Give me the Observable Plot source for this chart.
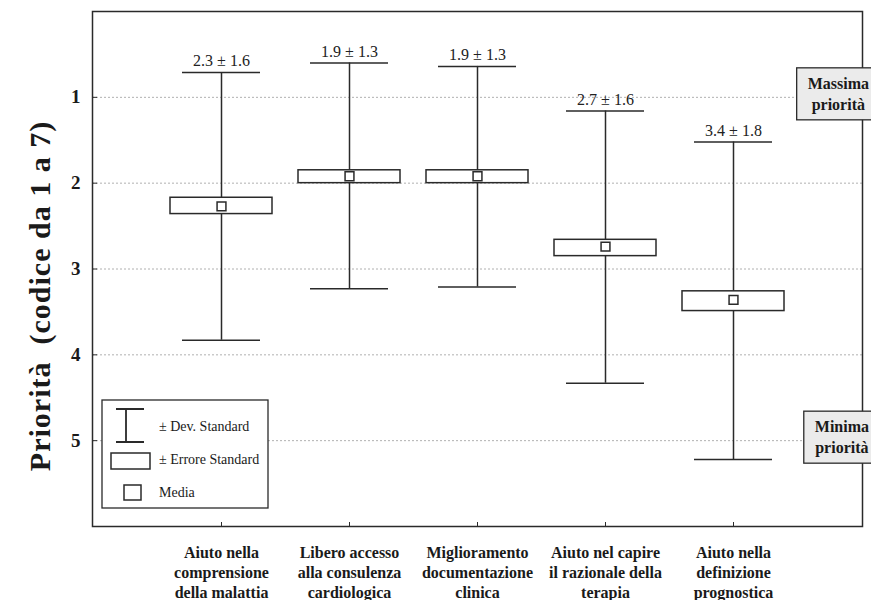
<!DOCTYPE html>
<html><head><meta charset="utf-8">
<script src="https://cdn.jsdelivr.net/npm/d3@7"></script>
<script src="https://cdn.jsdelivr.net/npm/@observablehq/plot@0.6"></script>
<style>
body{margin:0;background:#fff}
#chart svg{font-family:"Liberation Serif","Times New Roman",serif}
.ytitle text{letter-spacing:1px}
</style></head><body><div id="chart"></div>
<script>
const categories = [
  "Aiuto nella\ncomprensione\ndella malattia",
  "Libero accesso\nalla consulenza\ncardiologica",
  "Miglioramento\ndocumentazione\nclinica",
  "Aiuto nel capire\nil razionale della\nterapia",
  "Aiuto nella\ndefinizione\nprognostica"
];
const means  = [2.27, 1.92, 1.92, 2.74, 3.36];
const sdLow  = [0.71, 0.60, 0.64, 1.16, 1.52];
const sdHigh = [3.83, 3.23, 3.21, 4.33, 5.22];
const seLow  = [2.17, 1.85, 1.85, 2.66, 3.26];
const seHigh = [2.36, 2.00, 2.00, 2.85, 3.49];
const valueLabels = ["2.3 ± 1.6", "1.9 ± 1.3", "1.9 ± 1.3", "2.7 ± 1.6", "3.4 ± 1.8"];
const yTicks = [1, 2, 3, 4, 5];
const yTitle = "Priorità  (codice da 1 a 7)";
const annotationLabels = [["Massima", "priorità"], ["Minima", "priorità"]];
const annotationLevels = [1, 5];
const legendLabels = ["± Dev. Standard", "± Errore Standard", "Media"];

const rows = categories.map((cat, i) => ({
  cat, mean: means[i], sdLow: sdLow[i], sdHigh: sdHigh[i],
  seLow: seLow[i], seHigh: seHigh[i], label: valueLabels[i]
}));

const ink = "#2a2a2a";
const plot = Plot.plot({
  width: 871, height: 600,
  marginLeft: 92, marginRight: 9, marginTop: 11, marginBottom: 74,
  style: {fontFamily: '"Liberation Serif","Times New Roman",serif', background: "#fff", overflow: "visible"},
  x: {type: "band", domain: categories, paddingInner: 0.2, paddingOuter: 0.6, label: null},
  y: {domain: [0, 6], reverse: true, label: null},
  marks: [
    Plot.gridY(yTicks, {stroke: "#b0b0b0", strokeOpacity: 1, strokeDasharray: "2,2", strokeWidth: 1}),
    Plot.ruleX(rows, {x: "cat", y1: "sdLow", y2: "sdHigh", stroke: ink, strokeWidth: 1.5}),
    Plot.tickY(rows, {x: "cat", y: "sdLow", stroke: ink, strokeWidth: 1.5, inset: 12}),
    Plot.tickY(rows, {x: "cat", y: "sdHigh", stroke: ink, strokeWidth: 1.5, inset: 12}),
    Plot.barY(rows, {x: "cat", y1: "seLow", y2: "seHigh", fill: "white", stroke: ink, strokeWidth: 1.5}),
    Plot.dot(rows, {x: "cat", y: "mean", symbol: "square", r: 5, fill: "white", stroke: ink, strokeWidth: 1.5}),
    Plot.text(rows, {x: "cat", y: "sdLow", text: "label", dy: -6, lineAnchor: "bottom", fontSize: 16, fill: "#222"}),
    Plot.frame({stroke: ink, strokeWidth: 1.5}),
    Plot.axisY(yTicks, {tickSize: -5, tickPadding: 17, tickFormat: "d", fontSize: 19, fontWeight: "bold", stroke: ink, fill: "#1a1a1a"}),
    Plot.axisX({tickSize: -4, tickPadding: 21, fontSize: 16, fontWeight: "bold", lineHeight: 1.25, stroke: ink, fill: "#1a1a1a"}),
    Plot.text([yTitle], {frameAnchor: "left", textAnchor: "middle", rotate: -90, dx: -52, dy: 27, fontSize: 30, fontWeight: "bold", fill: "#1a1a1a", className: "ytitle"})
  ]
});
document.getElementById("chart").appendChild(plot);

// annotations & legend using the plot's own scales
const svg = d3.select(plot);
const xs = plot.scale("x"), ys = plot.scale("y");
const fxL = d3.min(xs.range), fxR = d3.max(xs.range);
const fyT = d3.min(ys.range), fyB = d3.max(ys.range);

const ann = svg.append("g").attr("font-weight", "bold").attr("font-size", 16).attr("fill", "#1a1a1a").attr("text-anchor", "middle");
annotationLevels.forEach((lvl, i) => {
  const cy = ys.apply(lvl);
  const g = ann.append("g");
  const rect = g.append("rect");
  const t = g.append("text").attr("text-anchor", "middle");
  const lines = annotationLabels[i];
  t.selectAll("tspan").data(lines).join("tspan").text(d => d);
  let w = 0;
  t.selectAll("tspan").each(function() { w = Math.max(w, this.getComputedTextLength()); });
  const boxW = w + 22, right = fxR + 18, left = right - boxW, cx = (left + right) / 2;
  rect.attr("x", left).attr("y", cy - 29).attr("width", boxW).attr("height", 52)
      .attr("fill", "#ebebeb").attr("stroke", ink).attr("stroke-width", 1.3);
  t.selectAll("tspan").attr("x", cx).attr("y", (d, j) => cy - 8 + j * 21);
});

const lg = svg.append("g").attr("transform", `translate(${fxL + 10},${fyB - 126})`);
lg.append("rect").attr("x", 0).attr("y", 0).attr("width", 166).attr("height", 108)
  .attr("fill", "white").attr("stroke", ink).attr("stroke-width", 1.3);
// std dev glyph
lg.append("path").attr("d", "M24,9V42M14,9H42M14,42H42").attr("stroke", ink).attr("stroke-width", 1.8).attr("fill", "none");
// std err glyph
lg.append("rect").attr("x", 9).attr("y", 53).attr("width", 39).attr("height", 16)
  .attr("fill", "white").attr("stroke", ink).attr("stroke-width", 1.5);
// mean glyph
lg.append("rect").attr("x", 22).attr("y", 85).attr("width", 17).attr("height", 15)
  .attr("fill", "white").attr("stroke", ink).attr("stroke-width", 1.5);
lg.selectAll("text.lab").data(legendLabels).join("text").attr("class", "lab")
  .attr("x", 57).attr("y", (d, i) => [31, 64, 97][i]).attr("text-anchor", "start")
  .attr("font-size", 14).attr("fill", "#1a1a1a").text(d => d);
</script></body></html>
